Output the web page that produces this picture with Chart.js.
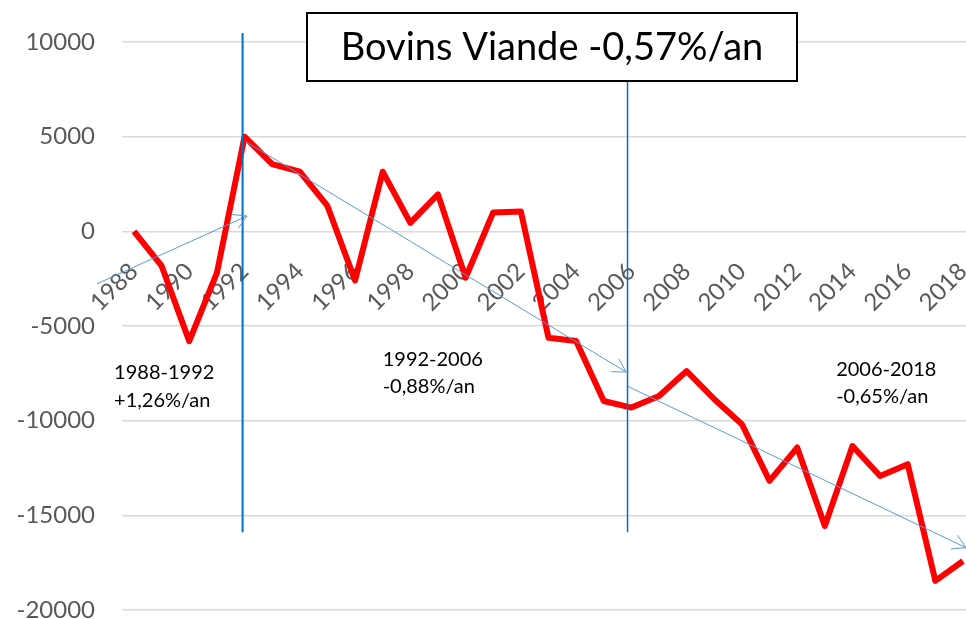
<!DOCTYPE html>
<html>
<head>
<meta charset="utf-8">
<script src="https://cdn.jsdelivr.net/npm/chart.js@4.4.1/dist/chart.umd.min.js"></script>
<style>
html,body{margin:0;padding:0;background:#fff;overflow:hidden}
#wrap{width:966px;height:619px;position:relative}
</style>
</head>
<body>
<div id="wrap"><canvas id="c" width="966" height="619"></canvas></div>
<script>
// ---- data ----
const years = [1988,1989,1990,1991,1992,1993,1994,1995,1996,1997,1998,1999,2000,2001,2002,2003,2004,2005,2006,2007,2008,2009,2010,2011,2012,2013,2014,2015,2016,2017,2018];
const values = [0,-1830,-5800,-2200,5000,3550,3150,1340,-2600,3150,450,1950,-2450,1000,1050,-5620,-5790,-8960,-9310,-8700,-7380,-8870,-10190,-13180,-11420,-15560,-11340,-12920,-12300,-18460,-17410];
const xTickYears = [1988,1990,1992,1994,1996,1998,2000,2002,2004,2006,2008,2010,2012,2014,2016,2018];
const yTickValues = [-20000,-15000,-10000,-5000,0,5000,10000];
const titleText = 'Bovins Viande -0,57%/an';

// trend arrows (start/end year, start/end value)
const trend1Years = [1986.66, 1992.09];
const trend1Values = [-2770, 810];
const trend2Years = [1992.02, 2005.81];
const trend2Values = [4760, -7430];
const trend3Years = [2005.84, 2018.11];
const trend3Values = [-8170, -16710];

// period separators
const separatorYears = [1991.93, 2005.86];
const separator1Values = [10470, -15900];
const separator2Values = [10000, -15900];

// period annotations
const noteLines = [['1988-1992','+1,26%/an'],['1992-2006','-0,88%/an'],['2006-2018','-0,65%/an']];
const noteYears = [1987.28, 1997.0, 2013.41];
const noteValues = [-7800, -7110, -7640];

const pts = (xs, ys) => xs.map((x, i) => ({x: x, y: ys[i]}));

const FONT = 'Lato, "Open Sans", sans-serif';

const arrowPlugin = {
  id: 'arrows',
  afterDatasetsDraw(chart) {
    const ctx = chart.ctx;
    chart.data.datasets.forEach((ds, i) => {
      if (!ds.arrow) return;
      const meta = chart.getDatasetMeta(i);
      const n = meta.data.length;
      const p1 = meta.data[n - 2], p2 = meta.data[n - 1];
      const ang = Math.atan2(p2.y - p1.y, p2.x - p1.x);
      const L = 15, spread = Math.PI / 6;
      ctx.save();
      ctx.strokeStyle = ds.borderColor;
      ctx.lineWidth = 1;
      ctx.beginPath();
      ctx.moveTo(p2.x - L * Math.cos(ang - spread), p2.y - L * Math.sin(ang - spread));
      ctx.lineTo(p2.x, p2.y);
      ctx.lineTo(p2.x - L * Math.cos(ang + spread), p2.y - L * Math.sin(ang + spread));
      ctx.stroke();
      ctx.restore();
    });
  }
};

const decorPlugin = {
  id: 'decor',
  afterDraw(chart) {
    const ctx = chart.ctx;
    const xs = chart.scales.x, ys = chart.scales.y;
    ctx.save();
    // annotations
    ctx.fillStyle = '#000';
    ctx.font = '20px ' + FONT;
    ctx.textAlign = 'left';
    ctx.textBaseline = 'alphabetic';
    noteLines.forEach((lines, i) => {
      const x = xs.getPixelForValue(noteYears[i]);
      const y = ys.getPixelForValue(noteValues[i]);
      lines.forEach((t, j) => ctx.fillText(t, x, y + j * 27.5));
    });
    // title box
    const bx = 307, by = 13, bw = 490, bh = 68;
    ctx.fillStyle = '#fff';
    ctx.fillRect(bx, by, bw, bh);
    ctx.strokeStyle = '#000';
    ctx.lineWidth = 2;
    ctx.strokeRect(bx, by, bw, bh);
    ctx.fillStyle = '#000';
    ctx.font = '38px ' + FONT;
    ctx.textAlign = 'center';
    ctx.textBaseline = 'middle';
    ctx.fillText(titleText, bx + bw / 2, by + bh / 2 + 1);
    ctx.restore();
  }
};

const zeroPad = (s) => { s.paddingLeft = 0; s.paddingRight = 0; s.paddingTop = 0; s.paddingBottom = 0; };

new Chart(document.getElementById('c'), {
  type: 'line',
  data: {
    datasets: [
      { data: pts(years, values), borderColor: '#ff0000', borderWidth: 6, pointRadius: 0, tension: 0, order: 3, borderJoinStyle: 'round' },
      { data: pts(trend1Years, trend1Values), borderColor: '#5b9bd5', borderWidth: 1, pointRadius: 0, order: 2, clip: false, arrow: true },
      { data: pts(trend2Years, trend2Values), borderColor: '#5b9bd5', borderWidth: 1, pointRadius: 0, order: 2, clip: false, arrow: true },
      { data: pts(trend3Years, trend3Values), borderColor: '#5b9bd5', borderWidth: 1, pointRadius: 0, order: 2, clip: false, arrow: true },
      { data: pts([separatorYears[0], separatorYears[0]], separator1Values), borderColor: '#0070c0', borderWidth: 2, pointRadius: 0, order: 1, clip: false },
      { data: pts([separatorYears[1], separatorYears[1]], separator2Values), borderColor: '#0070c0', borderWidth: 1.5, pointRadius: 0, order: 1, clip: false }
    ]
  },
  options: {
    responsive: false,
    animation: false,
    devicePixelRatio: 1,
    layout: { padding: { top: 42, bottom: 9, left: 0, right: 0 } },
    plugins: { legend: { display: false }, tooltip: { enabled: false }, title: { display: false } },
    scales: {
      x: {
        type: 'linear',
        position: { y: 0 },
        min: 1987.566,
        max: 2018.109,
        grid: { display: false, drawTicks: false },
        border: { display: false },
        afterBuildTicks: (s) => { s.ticks = xTickYears.map(v => ({ value: v })); },
        afterFit: (s) => { s.height = 0; zeroPad(s); },
        ticks: {
          autoSkip: false,
          minRotation: 45,
          maxRotation: 45,
          padding: 26,
          color: '#595959',
          font: { family: FONT, size: 24 },
          callback: (v) => String(v)
        }
      },
      y: {
        min: -20000,
        max: 10000,
        afterBuildTicks: (s) => { s.ticks = yTickValues.map(v => ({ value: v })); },
        afterFit: (s) => { s.width = 122; zeroPad(s); },
        grid: { color: '#d9d9d9', lineWidth: 1.5, drawTicks: false },
        border: { display: false },
        ticks: {
          padding: 27,
          color: '#595959',
          font: { family: FONT, size: 24 },
          callback: (v) => String(v)
        }
      }
    }
  },
  plugins: [arrowPlugin, decorPlugin]
});
</script>
</body>
</html>
